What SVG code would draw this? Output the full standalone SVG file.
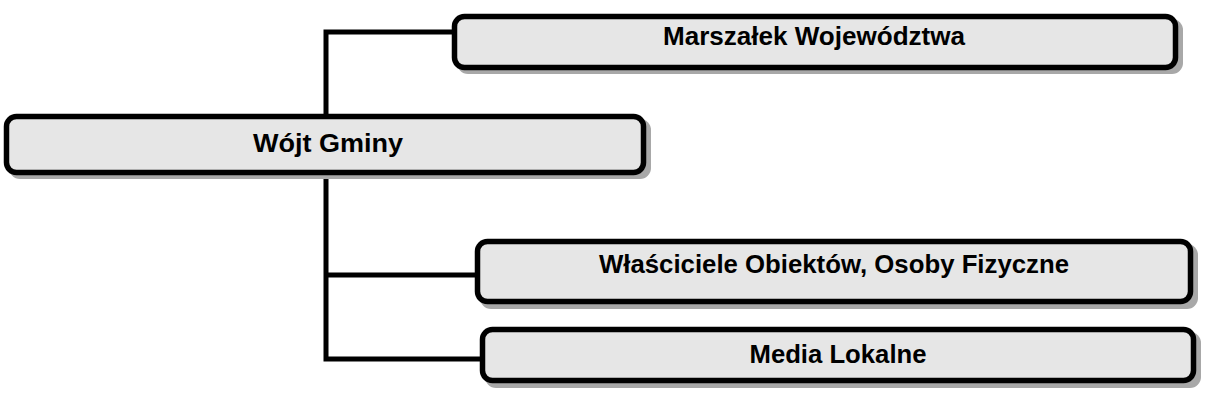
<svg xmlns="http://www.w3.org/2000/svg" width="1212" height="400" viewBox="0 0 1212 400">
<style>
.box{fill:#e6e6e6;stroke:#000;stroke-width:5.5}
.shadow{fill:#a8a8a8}
.conn{fill:none;stroke:#000;stroke-width:5;stroke-linecap:square}
text{font-family:"Liberation Sans",Arial,sans-serif;font-weight:bold;font-size:25px;fill:#000}
</style>
<rect width="1212" height="400" fill="#fff"/>
<g id="connectors">
<path class="conn" d="M326 32 V359 M326 32 H452 M326 275 H475 M326 359 H480"/>
</g>
<g id="node-wojt">
<rect class="shadow" x="9" y="119" width="642" height="60" rx="11"/>
<rect class="box" x="6.5" y="116.5" width="637" height="56" rx="10"/>
<text x="328" y="152" text-anchor="middle" textLength="150" lengthAdjust="spacingAndGlyphs">Wójt Gminy</text>
</g>
<g id="node-marszalek">
<rect class="shadow" x="457" y="19" width="726" height="55" rx="11"/>
<rect class="box" x="454.5" y="16.5" width="721" height="51" rx="10"/>
<text x="814" y="45" text-anchor="middle" textLength="302" lengthAdjust="spacingAndGlyphs">Marszałek Województwa</text>
</g>
<g id="node-wlasciciele">
<rect class="shadow" x="480" y="244" width="718" height="65" rx="11"/>
<rect class="box" x="477.5" y="241.5" width="713" height="60" rx="10"/>
<text x="834" y="273" text-anchor="middle" textLength="470" lengthAdjust="spacingAndGlyphs">Właściciele Obiektów, Osoby Fizyczne</text>
</g>
<g id="node-media">
<rect class="shadow" x="485" y="332" width="716" height="56" rx="11"/>
<rect class="box" x="482.5" y="329.5" width="711" height="51" rx="10"/>
<text x="838" y="363" text-anchor="middle" textLength="177" lengthAdjust="spacingAndGlyphs">Media Lokalne</text>
</g>
</svg>
